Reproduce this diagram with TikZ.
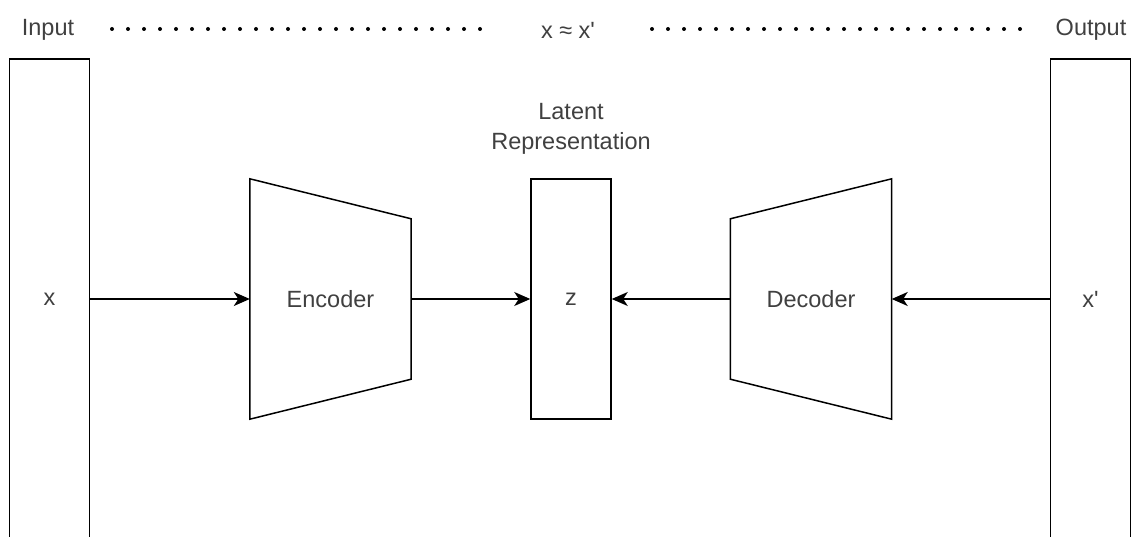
\documentclass[tikz,border=0pt]{standalone}
\usepackage{fontspec}
\setmainfont{Liberation Sans}
\usetikzlibrary{arrows.meta,calc}
\definecolor{labelgray}{HTML}{404040}

\begin{document}
\begin{tikzpicture}[x=1pt,y=-1pt,
    font=\fontsize{23.5}{30}\selectfont,
    every node/.style={text=labelgray},
    >={Stealth[length=16pt,width=14pt,inset=4.5pt]},
    layer/.style={draw, line width=1.5pt, minimum width=80pt, inner sep=0pt},
    block/.style={minimum width=161pt, minimum height=240pt, inner sep=0pt},
    link/.style={->, line width=1.5pt},
    dots/.style={line width=4pt, line cap=round, dash pattern=on 0pt off 16pt}]

    \useasboundingbox (0,0) rectangle (1132,537);
    \clip (0,0) rectangle (1132,537);

    % Input and output columns
    \node[layer, minimum height=480pt] (xin) at (49.5,299) {x};
    \node[layer, minimum height=480pt] (xout) at (1090.5,299) {x\textquotesingle};

    % Latent code
    \node[layer, minimum height=240pt] (z) at (571,299) {z};
    \node[align=center] (latlbl) at (571,129) {Latent\\Representation};

    % Encoder and decoder blocks (trapezoids from the node corners)
    \node[block] (enc) at (330.5,299) {Encoder};
    \node[block] (dec) at (811,299) {Decoder};
    \draw[line width=1.5pt] (enc.north west) -- ($(enc.north east)+(0,40)$)
        -- ($(enc.south east)+(0,-40)$) -- (enc.south west) -- cycle;
    \draw[line width=1.5pt] (dec.north east) -- ($(dec.north west)+(0,40)$)
        -- ($(dec.south west)+(0,-40)$) -- (dec.south east) -- cycle;

    % Arrows
    \draw[link] (xin) -- (enc);
    \draw[link] (enc) -- (z);
    \draw[link] (dec) -- (z);
    \draw[link] (xout) -- (dec);

    % Top row: labels and dotted guides
    \node (inlbl) at (48,30) {Input};
    \node (outlbl) at (1091,30) {Output};
    \node (approx) at (568,30) {x ≈ x\textquotesingle};
    \coordinate (d1) at (112,29);
    \coordinate (d2) at (481,29);
    \coordinate (d3) at (652,29);
    \coordinate (d4) at (1021,29);
    \draw[dots] (d1) -- (d2);
    \draw[dots] (d3) -- (d4);
\end{tikzpicture}
\end{document}
